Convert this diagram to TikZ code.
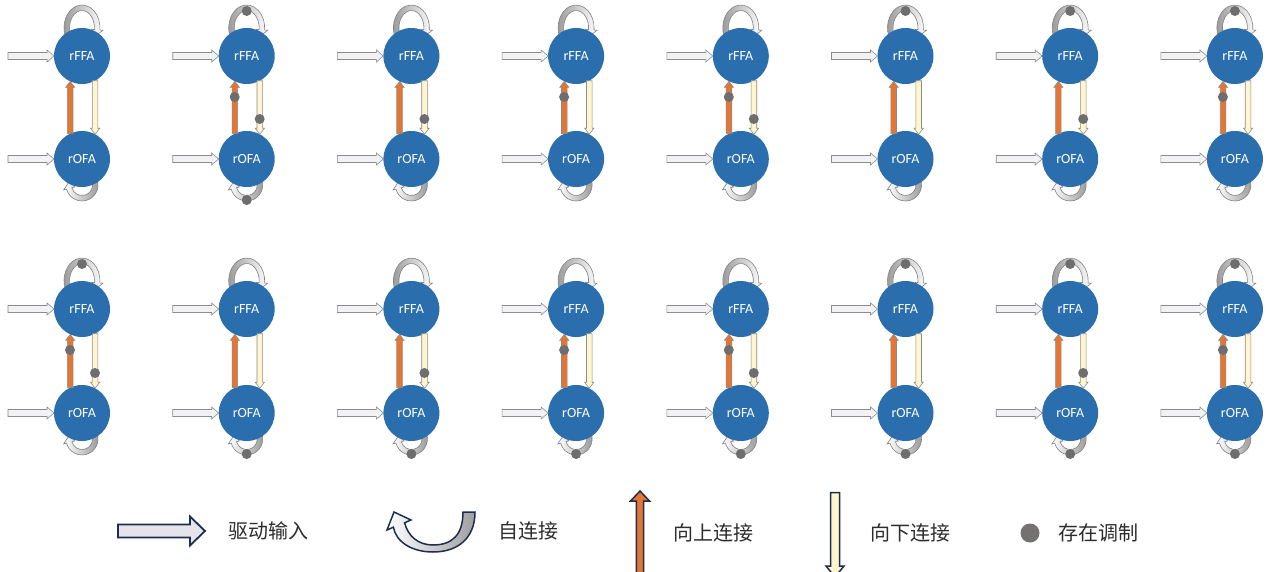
\documentclass[tikz,border=0pt]{standalone}
\usepackage{fontspec}
\newfontfamily\cjk{Noto Sans CJK SC}
\newfontfamily\lab{Carlito}
\usetikzlibrary{calc,backgrounds}
\definecolor{nodeblue}{RGB}{42,110,173}
\definecolor{upfill}{RGB}{228,118,52}
\definecolor{downfill}{RGB}{255,245,206}
\definecolor{inputfill}{RGB}{242,242,244}
\definecolor{arrowgray}{RGB}{140,140,140}
\definecolor{loopdark}{RGB}{150,150,150}
\definecolor{loopgray}{RGB}{130,130,130}
\definecolor{dotgray}{RGB}{110,110,110}
\definecolor{navy}{RGB}{31,45,80}
\definecolor{legdrivefill}{RGB}{228,228,234}
\definecolor{legdot}{RGB}{117,113,113}
\definecolor{legtextcol}{RGB}{45,45,45}
\newcommand\hblock[6]{%
  \path[#1] ($(#2)+(0,-#4)$) -- ($(#3)+(-#6,-#4)$) -- ($(#3)+(-#6,-#5)$) -- (#3)
    -- ($(#3)+(-#6,#5)$) -- ($(#3)+(-#6,#4)$) -- ($(#2)+(0,#4)$) -- cycle;}
\newcommand\vblock[6]{%
  \path[#1] ($(#2)+(-#4,0)$) -- ($(#3)+(-#4,#6)$) -- ($(#3)+(-#5,#6)$) -- (#3)
    -- ($(#3)+(#5,#6)$) -- ($(#3)+(#4,#6)$) -- ($(#2)+(#4,0)$) -- cycle;}
\tikzset{
  region/.style={circle, fill=nodeblue, minimum size=56pt, inner sep=0pt, outer sep=0pt,
    text=white, font=\lab\fontsize{14}{14}\selectfont},
  inarrow/.style={draw=arrowgray, line width=0.6pt, fill=inputfill},
  uparrow/.style={draw=arrowgray, line width=0.6pt, fill=upfill},
  downarrow/.style={draw=arrowgray, line width=0.6pt, fill=downfill},
  moddot/.style={fill=dotgray},
  toploop/.style={draw=loopgray, line width=0.6pt, left color=loopdark, right color=white},
  botloop/.style={draw=loopgray, line width=0.6pt, left color=white, right color=loopdark},
  legdrive/.style={draw=navy, line width=1.8pt, fill=legdrivefill},
  legup/.style={draw=navy, line width=1.5pt, fill=upfill},
  legdown/.style={draw=navy, line width=1.5pt, fill=downfill},
  legloop/.style={draw=navy, line width=1.5pt, left color=white, right color=gray!75},
  legtext/.style={anchor=west, inner sep=0pt, font=\cjk\fontsize{20}{20}\selectfont, text=legtextcol},
}
\begin{document}
\begin{tikzpicture}[x=1pt,y=-1pt]
\useasboundingbox (0,0) rectangle (1277,572);
\begin{scope}[on background layer]
  \fill[white] (0,0) rectangle (1277,572);
\end{scope}
\foreach \i/\x/\fy/\oy/\t/\u/\d/\b in {
  1/82/56/159/0/0/0/0, 2/246.7/56/159/1/1/1/1, 3/411.4/56/159/0/0/1/0, 4/576.1/56/159/0/1/0/0,
  5/740.8/56/159/0/1/1/0, 6/905.5/56/159/1/0/0/0, 7/1070.2/56/159/1/0/1/0, 8/1234.9/56/159/1/1/0/0,
  9/82/309/413/1/1/1/0, 10/246.7/309/413/0/0/0/1, 11/411.4/309/413/0/0/1/1, 12/576.1/309/413/0/1/0/1,
  13/740.8/309/413/0/1/1/1, 14/905.5/309/413/1/0/0/1, 15/1070.2/309/413/1/0/1/1, 16/1234.9/309/413/1/1/0/1}{
  \node[region] (F\i) at (\x,\fy) {rFFA};
  \node[region] (O\i) at (\x,\oy) {rOFA};
  \coordinate (inF\i) at (\x-74,\fy);
  \coordinate (inO\i) at (\x-74,\oy);
  % self loops (behind the circles)
  \begin{scope}[on background layer, shift={($(F\i)+(0,-28)$)}]
    \path[toploop] (160:18 and 23) arc[start angle=160, end angle=365, x radius=18, y radius=23]
      -- (365:21 and 26) -- (382:15.25 and 20.25) -- (365:9.5 and 14.5) -- (365:12.5 and 17.5)
      arc[start angle=365, end angle=160, x radius=12.5, y radius=17.5] -- cycle;
  \end{scope}
  \begin{scope}[on background layer, shift={($(O\i)+(0,26)$)}]
    \path[botloop] (-30:16) arc[start angle=-30, end angle=165, radius=16]
      -- (165:19) -- (195:13.25) -- (165:7.5) -- (165:10.5)
      arc[start angle=165, end angle=-30, radius=10.5] -- cycle;
  \end{scope}
  % driving inputs
  \hblock{inarrow}{inF\i}{F\i.west}{3.5}{6}{7}
  \hblock{inarrow}{inO\i}{O\i.west}{3.5}{6}{7}
  % upward and downward connections
  \vblock{uparrow}{O\i.115}{F\i.245}{2.8}{4.6}{6}
  \vblock{downarrow}{F\i.298}{O\i.62}{2.8}{4.6}{-6}
  % modulation dots
  \ifnum\t=1 \fill[moddot] ($(F\i)+(0,-45)$) circle[radius=5]; \fi
  \ifnum\u=1 \fill[moddot] ($(F\i)+(-12,41)$) circle[radius=5]; \fi
  \ifnum\d=1 \fill[moddot] ($(O\i)+(13,-40)$) circle[radius=5]; \fi
  \ifnum\b=1 \fill[moddot] ($(O\i)+(0,41)$) circle[radius=5]; \fi
}
% legend
\coordinate (dA) at (118,531);
\coordinate (dB) at (205,531);
\hblock{legdrive}{dA}{dB}{6.5}{14.5}{15}
\node[legtext] (tDrive) at (228,531) {驱动输入};
\path[legloop] (463,512) -- (475,512) .. controls (475,538) and (458,552) .. (433,552)
  .. controls (412,552) and (396,542) .. (393.4,527.2) -- (387,530) -- (394,512) -- (411,520)
  -- (404.6,522.8) .. controls (408,536) and (418,545) .. (433,545)
  .. controls (452,545) and (463,535) .. (463,512) -- cycle;
\node[legtext] (tSelf) at (498,531) {自连接};
\coordinate (uA) at (640,578);
\coordinate (uB) at (640,491);
\vblock{legup}{uA}{uB}{3.6}{9.5}{10}
\node[legtext] (tUp) at (673,533) {向上连接};
\coordinate (wA) at (835,492.5);
\coordinate (wB) at (835,577);
\vblock{legdown}{wA}{wB}{4.5}{9}{-11}
\node[legtext] (tDown) at (870,533) {向下连接};
\node[circle, fill=legdot, minimum size=19pt, inner sep=0pt] (lgDot) at (1030,533) {};
\node[legtext] (tMod) at (1058,533) {存在调制};
\end{tikzpicture}
\end{document}
